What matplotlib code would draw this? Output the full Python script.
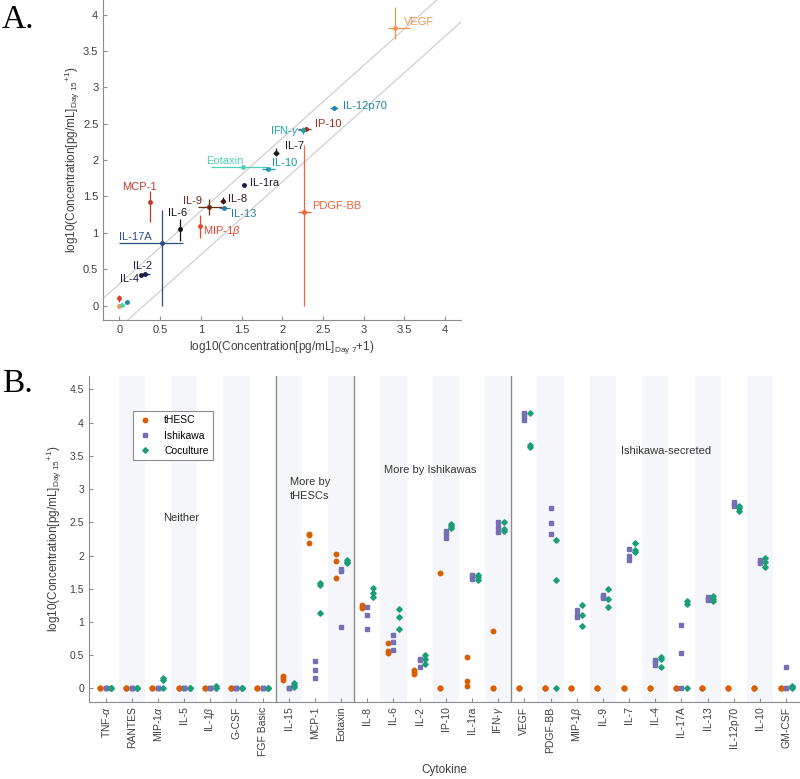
import numpy as np
import matplotlib
matplotlib.use('Agg')
import matplotlib.pyplot as plt
from matplotlib.ticker import FuncFormatter, MultipleLocator

plt.rcParams['font.family'] = ['Liberation Sans', 'DejaVu Sans']
plt.rcParams['mathtext.fontset'] = 'custom'
plt.rcParams['mathtext.rm'] = 'Liberation Sans'
plt.rcParams['mathtext.it'] = 'Liberation Sans:italic'
plt.rcParams['mathtext.bf'] = 'Liberation Sans:bold'

# ---------------- panel A data (day 7 vs day 15, mean with range) ----------------
names_a = ['VEGF', 'IL-12p70', 'IP-10', 'IFN-$\\gamma$', 'IL-7', 'Eotaxin', 'IL-10',
           'IL-1ra', 'IL-8', 'IL-9', 'IL-13', 'MCP-1', 'MIP-1$\\beta$', 'IL-6',
           'IL-17A', 'IL-2', 'IL-4', 'PDGF-BB', '', '', '', '']
day7 = [3.39, 2.64, 2.29, 2.25, 1.92, 1.515, 1.82, 1.535, 1.27, 1.10, 1.28, 0.37,
        0.99, 0.75, 0.52, 0.31, 0.27, 2.27, 0.0, 0.0, 0.03, 0.09]
day15 = [3.81, 2.71, 2.43, 2.41, 2.10, 1.905, 1.88, 1.66, 1.44, 1.355, 1.345, 1.425,
         1.095, 1.055, 0.86, 0.44, 0.415, 1.285, 0.105, 0.0, 0.015, 0.05]
day7_lo = [3.30, 2.59, 2.20, 2.20, 1.89, 1.12, 1.75, 1.51, 1.24, 0.96, 1.22, 0.36,
           0.98, 0.74, 0.0, 0.26, 0.24, 2.20, 0.0, 0.0, 0.01, 0.07]
day7_hi = [3.57, 2.69, 2.36, 2.29, 1.96, 1.81, 1.91, 1.56, 1.30, 1.28, 1.36, 0.38,
           1.00, 0.76, 0.78, 0.37, 0.30, 2.36, 0.0, 0.0, 0.05, 0.11]
day15_lo = [3.66, 2.69, 2.40, 2.36, 2.05, 1.89, 1.86, 1.64, 1.39, 1.24, 1.33, 1.15,
            0.93, 0.89, 0.0, 0.42, 0.39, 0.0, 0.05, 0.0, 0.0, 0.04]
day15_hi = [4.10, 2.73, 2.46, 2.46, 2.16, 1.92, 1.90, 1.68, 1.49, 1.47, 1.36, 1.58,
            1.25, 1.19, 1.31, 0.46, 0.44, 2.21, 0.14, 0.0, 0.03, 0.06]
colors_a = ['#f39450', '#2386a8', '#9c3020', '#22a3a6', '#1a1a1a', '#4fd0b4', '#1b9aab',
            '#1c1c3c', '#3a1a12', '#6a2a14', '#2e80a2', '#c23a2b', '#e8462e', '#111111',
            '#2c4e82', '#1b1f4c', '#1a1a42', '#f46436', '#d8402c', '#f39450', '#4fd0b4', '#2386a8']
# label anchor: (x, y, horizontal alignment)
label_pos = [(3.50, 3.90, 'left'), (2.75, 2.74, 'left'), (2.40, 2.49, 'left'),
             (2.22, 2.40, 'right'), (2.03, 2.19, 'left'), (1.06, 1.99, 'left'),
             (1.87, 1.96, 'left'), (1.60, 1.69, 'left'), (1.33, 1.46, 'left'),
             (1.01, 1.44, 'right'), (1.37, 1.255, 'left'), (0.25, 1.63, 'center'),
             (1.03, 1.03, 'left'), (0.72, 1.27, 'center'), (-0.01, 0.94, 'left'),
             (0.17, 0.545, 'left'), (0.01, 0.36, 'left'), (2.37, 1.37, 'left')]

# ---------------- panel B data (3 replicates per group) ----------------
cytokines = ['TNF-$\\alpha$', 'RANTES', 'MIP-1$\\alpha$', 'IL-5', 'IL-1$\\beta$', 'G-CSF',
             'FGF Basic', 'IL-15', 'MCP-1', 'Eotaxin', 'IL-8', 'IL-6', 'IL-2', 'IP-10',
             'IL-1ra', 'IFN-$\\gamma$', 'VEGF', 'PDGF-BB', 'MIP-1$\\beta$', 'IL-9', 'IL-7',
             'IL-4', 'IL-17A', 'IL-13', 'IL-12p70', 'IL-10', 'GM-CSF']
thesc = [[0, 0, 0], [0, 0, 0], [0, 0, 0], [0, 0, 0], [0, 0, 0], [0, 0, 0], [0, 0, 0],
         [0.13, 0.15, 0.18], [2.19, 2.31, 2.33], [1.66, 1.92, 2.03],
         [1.21, 1.23, 1.26], [0.54, 0.56, 0.68], [0.21, 0.24, 0.28], [0, 0, 1.73],
         [0.04, 0.11, 0.47], [0, 0, 0.87],
         [0, 0, 0], [0, 0, 0], [0, 0, 0], [0, 0, 0], [0, 0, 0], [0, 0, 0],
         [0, 0, 0], [0, 0, 0], [0, 0, 0], [0, 0, 0], [0, 0, 0]]
ishikawa = [[0, 0, 0], [0, 0, 0], [0, 0, 0], [0, 0, 0], [0, 0, 0], [0, 0, 0], [0, 0, 0],
            [0, 0, 0], [0.15, 0.27, 0.42], [0.93, 1.76, 1.80],
            [0.90, 1.10, 1.22], [0.58, 0.70, 0.81], [0.33, 0.43, 0.45], [2.27, 2.33, 2.37],
            [1.64, 1.67, 1.71], [2.36, 2.43, 2.51],
            [4.04, 4.10, 4.15], [2.33, 2.49, 2.72], [1.07, 1.10, 1.18], [1.36, 1.38, 1.40],
            [1.94, 1.99, 2.10], [0.35, 0.40, 0.43], [0, 0.53, 0.96], [1.33, 1.35, 1.37],
            [2.75, 2.78, 2.81], [1.88, 1.91, 1.93], [0, 0, 0.33]]
coculture = [[0, 0, 0], [0, 0, 0], [0, 0.13, 0.16], [0, 0, 0], [0, 0.01, 0.03], [0, 0, 0],
             [0, 0, 0],
             [0.02, 0.05, 0.08], [1.14, 1.55, 1.58], [1.89, 1.91, 1.93],
             [1.38, 1.43, 1.51], [0.90, 1.08, 1.19], [0.37, 0.45, 0.51], [2.42, 2.44, 2.47],
             [1.63, 1.67, 1.71], [2.37, 2.40, 2.51],
             [3.64, 3.67, 4.14], [0, 1.63, 2.23], [0.94, 1.10, 1.26], [1.23, 1.35, 1.49],
             [2.06, 2.09, 2.19], [0.33, 0.44, 0.47], [0, 1.27, 1.31], [1.32, 1.35, 1.39],
             [2.67, 2.71, 2.75], [1.83, 1.90, 1.96], [0, 0.02, 0.03]]
groups = ['tHESC', 'Ishikawa', 'Coculture']
region_names = ['Neither', 'More by\ntHESCs', 'More by Ishikawas', 'Ishikawa-secreted']
region_xy = [(2.9, 2.56), (7.8, 3.0), (12.4, 3.28), (21.4, 3.58)]
separators = [6.5, 9.5, 15.5]

spine_c = '#8c8c8c'
text_c = '#404040'
fmt = FuncFormatter(lambda v, p: '%g' % round(v, 2))

fig = plt.figure(figsize=(8, 7.79), dpi=100)

# ---------------- panel A ----------------
axA = fig.add_axes([0.129, 0.589, 0.4475, 0.411])
axA.plot([-0.2, 4.2], [0.1, 4.5], color='#cfcfcf', lw=0.9, zorder=1)
axA.plot([-0.2, 4.2], [-0.5, 3.9], color='#cfcfcf', lw=0.9, zorder=1)
for i in range(len(day7)):
    x, y = day7[i], day15[i]
    axA.errorbar(x, y,
                 xerr=[[x - day7_lo[i]], [day7_hi[i] - x]],
                 yerr=[[y - day15_lo[i]], [day15_hi[i] - y]],
                 fmt='.', color=colors_a[i], ms=5, elinewidth=0.9, capsize=0, zorder=3)
for i, (lx, ly, ha) in enumerate(label_pos):
    axA.text(lx, ly, names_a[i], color=colors_a[i], fontsize=8, ha=ha, va='center')
axA.set_xlim(-0.2, 4.2)
axA.set_ylim(-0.2, 4.2)
axA.xaxis.set_major_locator(MultipleLocator(0.5))
axA.yaxis.set_major_locator(MultipleLocator(0.5))
axA.xaxis.set_major_formatter(fmt)
axA.yaxis.set_major_formatter(fmt)
axA.set_xlabel('log10(Concentration[pg/mL]$_{\\mathrm{Day\\ 7}}$+1)', fontsize=8.5, color=text_c, labelpad=3)
axA.set_ylabel('log10(Concentration[pg/mL]$_{\\mathrm{Day\\ 15}}$$^{\\mathrm{+1}}$)', fontsize=8.5, color=text_c, labelpad=1)
for s in ['top', 'right']:
    axA.spines[s].set_visible(False)
for s in ['left', 'bottom']:
    axA.spines[s].set_color(spine_c)
axA.tick_params(direction='in', length=3, color=spine_c, labelsize=8, labelcolor=text_c)

# ---------------- panel B ----------------
axB = fig.add_axes([0.111, 0.0992, 0.889, 0.418])
xs = np.arange(len(cytokines))
for i in xs:
    if i % 2 == 1:
        axB.axvspan(i - 0.5, i + 0.5, color='#f5f6fa', lw=0, zorder=0)
for s in separators:
    axB.axvline(s, color='#8c8c8c', lw=1, zorder=1)
styles = [('o', '#d95f02', 3.2, -0.21), ('s', '#7570b3', 2.6, 0.0), ('D', '#1b9e77', 2.8, 0.21)]
for gname, vals, (mk, col, ms, off) in zip(groups, [thesc, ishikawa, coculture], styles):
    v = np.array(vals)
    xx = np.repeat(xs + off, 3)
    axB.plot(xx, v.ravel(), ls='none', marker=mk, color=col, ms=ms, mec=col, label=gname, zorder=3)
for name, (rx, ry) in zip(region_names, region_xy):
    axB.text(rx, ry, name, fontsize=8, color='#333333', ha='center', va='center', linespacing=1.4)
axB.set_xlim(-0.64, 26.53)
axB.set_ylim(-0.2, 4.7)
axB.set_xticks(xs)
axB.set_xticklabels(cytokines, rotation=90, fontsize=7.5, color=text_c)
axB.yaxis.set_major_locator(MultipleLocator(0.5))
axB.yaxis.set_major_formatter(fmt)
axB.set_xlabel('Cytokine', fontsize=8.5, color=text_c, labelpad=6)
axB.set_ylabel('log10(Concentration[pg/mL]$_{\\mathrm{Day\\ 15}}$$^{\\mathrm{+1}}$)', fontsize=8.5, color=text_c, labelpad=4)
for s in ['top', 'right']:
    axB.spines[s].set_visible(False)
for s in ['left', 'bottom']:
    axB.spines[s].set_color(spine_c)
axB.tick_params(direction='in', length=3, color=spine_c, labelsize=7.5, labelcolor=text_c)
leg = axB.legend(loc='upper left', bbox_to_anchor=(0.166, 0.472), bbox_transform=fig.transFigure,
                 fontsize=7.5, fancybox=False, framealpha=1, edgecolor='#8c8c8c',
                 handletextpad=1.0, borderpad=0.4, labelspacing=0.5, borderaxespad=0,
                 handlelength=1.6)
leg.get_frame().set_linewidth(0.8)

fig.text(0.002, 1 - 28 / 779, 'A.', fontsize=24, family='Liberation Serif', va='baseline')
fig.text(0.002, 1 - 392 / 779, 'B.', fontsize=24, family='Liberation Serif', va='baseline')

fig.savefig('out.png', dpi=100)
